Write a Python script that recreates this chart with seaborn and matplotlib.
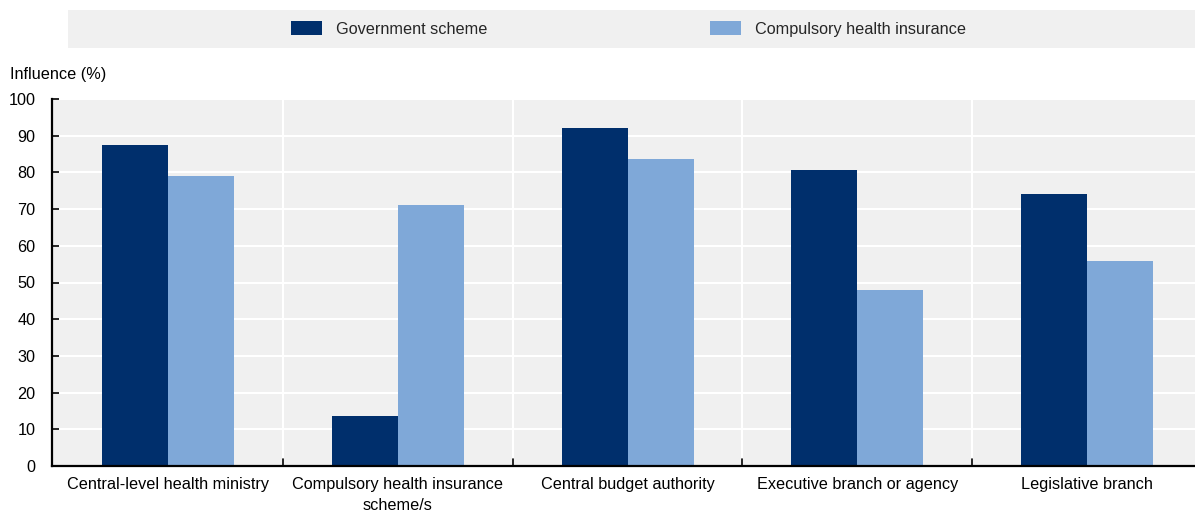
import matplotlib
matplotlib.use("Agg")
import matplotlib.pyplot as plt
from matplotlib.patches import Rectangle
import seaborn as sns
import pandas as pd

categories = [
    "Central-level health ministry",
    "Compulsory health insurance\nscheme/s",
    "Central budget authority",
    "Executive branch or agency",
    "Legislative branch",
]
government_scheme = [87.5, 13.6, 92.1, 80.7, 74.1]
compulsory_insurance = [78.9, 71.1, 83.7, 48.0, 55.9]
series_names = ["Government scheme", "Compulsory health insurance"]
colors = ["#002F6C", "#7FA8D8"]

df = pd.DataFrame({
    "category": categories * 2,
    "series": [series_names[0]] * 5 + [series_names[1]] * 5,
    "value": government_scheme + compulsory_insurance,
})

sns.set_theme(style="white")
plt.rcParams["font.family"] = ["Liberation Sans", "DejaVu Sans"]
FS = 11.7
plt.rcParams["font.size"] = FS

W, H = 1195, 513
fig = plt.figure(figsize=(W / 100, H / 100), dpi=100)
ax = fig.add_axes([52 / W, 1 - 466 / H, (1195 - 52) / W, 367 / H])
ax.set_facecolor("#F0F0F0")

sns.barplot(data=df, x="category", y="value", hue="series",
            hue_order=series_names, palette=colors, width=0.575,
            saturation=1, ax=ax, legend=False, edgecolor="none")

ax.set_ylim(0, 100)
ax.set_xlim(-0.506, 4.470)
ax.set_yticks(range(0, 101, 10))
ax.yaxis.grid(True, color="white", linewidth=1.5)
for b in range(1, len(categories)):
    ax.axvline(b - 0.5, color="white", linewidth=1.5, zorder=0.5)
ax.set_axisbelow(True)

for side in ["top", "right"]:
    ax.spines[side].set_visible(False)
for side in ["left", "bottom"]:
    ax.spines[side].set_color("black")
    ax.spines[side].set_linewidth(1.6)

ax.set_xticks(range(len(categories)))
ax.set_xticklabels(categories, fontsize=FS, color="black", linespacing=1.45)
ax.tick_params(axis="x", length=0, pad=8)
ax.tick_params(axis="y", direction="in", length=5, width=1.2, colors="black",
               labelsize=FS, pad=12, left=True)
for b in range(1, len(categories)):
    ax.plot([b - 0.5, b - 0.5], [0, 2.0], color="black", linewidth=1.2,
            clip_on=False, zorder=5)
ax.set_xlabel("")
ax.set_ylabel("")
fig.text(10 / W, 1 - 74 / H, "Influence (%)", fontsize=FS,
         ha="left", va="center", color="black")

# legend band
fig.patches.append(Rectangle((68 / W, 1 - 48 / H), (W - 68) / W, 38 / H,
                             transform=fig.transFigure, facecolor="#F0F0F0",
                             edgecolor="none", zorder=0))
handles = [Rectangle((0, 0), 1, 1, facecolor=c, edgecolor="none") for c in colors]
fig.legend(handles, series_names, loc="center left", ncol=2,
           bbox_to_anchor=(291 / W, 1 - 29 / H), frameon=False,
           borderpad=0, borderaxespad=0,
           fontsize=FS, handlelength=1.9, handleheight=0.92,
           columnspacing=13.7, handletextpad=0.86)

fig.savefig("out.png", dpi=100)
